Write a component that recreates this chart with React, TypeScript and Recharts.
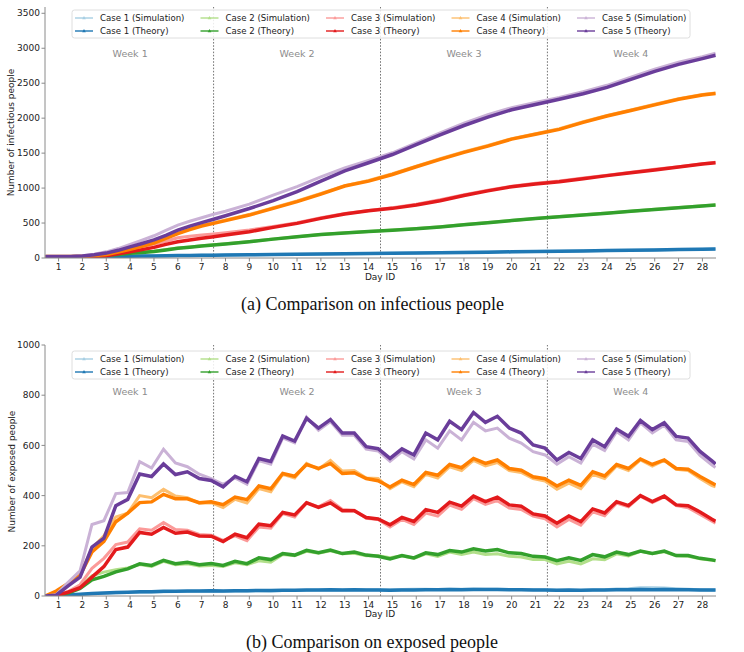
import React from 'react';
import { LineChart, Line, XAxis, YAxis, ReferenceLine, ReferenceDot } from 'recharts';

// ---------- categories / ticks ----------
const dayTicks = [1, 2, 3, 4, 5, 6, 7, 8, 9, 10, 11, 12, 13, 14, 15, 16, 17, 18, 19, 20, 21, 22, 23, 24, 25, 26, 27, 28];
const weekBounds = [7.5, 14.5, 21.5];
const weekLabels = ['Week 1', 'Week 2', 'Week 3', 'Week 4'];
const weekCenters = [4, 11, 18, 25];
const topTicks = [0, 500, 1000, 1500, 2000, 2500, 3000, 3500];
const bottomTicks = [0, 200, 400, 600, 800, 1000];
const caseNames = ['Case 1', 'Case 2', 'Case 3', 'Case 4', 'Case 5'];
const lightColors = ['#a6cee3', '#b2df8a', '#fb9a99', '#fdbf6f', '#cab2d6'];
const darkColors = ['#1f78b4', '#33a02c', '#e31a1c', '#ff7f00', '#6a3d9a'];

// ---------- (a) infectious people ----------
const topDays = [0.45, 1, 1.5, 2, 2.5, 3, 3.5, 4, 4.5, 5,
  5.5, 6, 6.5, 7, 7.5, 8, 9, 10, 11, 12,
  13, 14, 15, 16, 17, 18, 19, 20, 21, 22,
  23, 24, 25, 26, 27, 28, 28.55];

const I1S = [15, 15, 16, 17, 19, 21, 24, 27, 29, 31, 33, 35, 37, 39, 41, 43, 47, 51, 55, 58, 62, 66, 69, 73, 77, 81, 85, 89, 93, 98, 102, 107, 111, 116, 121, 125, 128];
const I1T = [15, 15, 15, 16, 18, 20, 22, 25, 27, 30, 32, 34, 36, 38, 40, 42, 46, 50, 54, 57, 61, 65, 68, 72, 76, 80, 84, 88, 92, 97, 101, 106, 110, 115, 120, 124, 127];
const I2S = [18, 18, 19, 22, 28, 40, 56, 72, 85, 98, 120, 142, 158, 174, 188, 203, 236, 272, 305, 336, 360, 380, 400, 422, 448, 478, 508, 538, 566, 592, 617, 642, 670, 697, 722, 747, 759];
const I2T = [18, 18, 18, 20, 24, 35, 50, 67, 80, 92, 115, 138, 155, 171, 185, 200, 233, 270, 305, 335, 358, 378, 398, 420, 445, 475, 505, 535, 565, 590, 615, 640, 668, 695, 720, 745, 757];
const I3S = [18, 18, 20, 25, 33, 45, 80, 120, 160, 200, 240, 290, 310, 329, 345, 362, 400, 450, 505, 575, 635, 680, 718, 768, 835, 905, 968, 1028, 1068, 1100, 1145, 1185, 1228, 1268, 1305, 1348, 1368];
const I3T = [18, 18, 19, 22, 26, 32, 60, 90, 120, 152, 195, 233, 258, 281, 305, 330, 376, 438, 495, 567, 628, 676, 710, 757, 820, 895, 960, 1020, 1060, 1090, 1135, 1178, 1220, 1260, 1300, 1343, 1362];
const I4S = [20, 20, 23, 28, 40, 60, 100, 145, 190, 235, 300, 368, 420, 470, 505, 545, 622, 718, 815, 922, 1035, 1110, 1205, 1315, 1420, 1520, 1610, 1708, 1778, 1848, 1948, 2038, 2118, 2198, 2278, 2338, 2360];
const I4T = [20, 20, 22, 26, 35, 50, 85, 124, 168, 212, 280, 350, 405, 457, 495, 535, 614, 710, 806, 914, 1029, 1100, 1195, 1305, 1410, 1510, 1600, 1700, 1770, 1840, 1940, 2030, 2110, 2190, 2270, 2330, 2352];
const I5S = [20, 20, 23, 32, 55, 88, 135, 195, 255, 318, 395, 470, 525, 575, 625, 668, 770, 900, 1020, 1160, 1290, 1395, 1505, 1645, 1790, 1930, 2050, 2150, 2225, 2295, 2380, 2470, 2585, 2700, 2800, 2880, 2930];
const I5T = [20, 20, 22, 28, 45, 70, 110, 160, 208, 258, 325, 398, 455, 505, 555, 605, 708, 820, 950, 1100, 1245, 1362, 1480, 1620, 1760, 1895, 2015, 2120, 2195, 2270, 2350, 2440, 2555, 2670, 2770, 2852, 2900];

// ---------- (b) exposed people ----------
const bottomDays = [0.45, 0.9, 1.4, 1.9, 2.4, 2.9, 3.4, 3.9, 4.4, 4.9,
  5.4, 5.9, 6.4, 6.9, 7.4, 7.9, 8.4, 8.9, 9.4, 9.9,
  10.4, 10.9, 11.4, 11.9, 12.4, 12.9, 13.4, 13.9, 14.4, 14.9,
  15.4, 15.9, 16.4, 16.9, 17.4, 17.9, 18.4, 18.9, 19.4, 19.9,
  20.4, 20.9, 21.4, 21.9, 22.4, 22.9, 23.4, 23.9, 24.4, 24.9,
  25.4, 25.9, 26.4, 26.9, 27.4, 27.9, 28.4, 28.55];

const E1S = [0, 1, 3, 6, 9, 11, 13, 14, 15, 16, 17, 18, 18, 19, 20, 19, 20, 20, 21, 20, 22, 22, 23, 24, 25, 24, 25, 25, 25, 24, 26, 27, 27, 26, 27, 27, 28, 27, 27, 26, 26, 25, 25, 23, 23, 22, 24, 25, 28, 29, 33, 33, 32, 29, 27, 25, 24, 24];
const E1T = [0, 1, 4, 7, 10, 12, 14, 15, 17, 17, 19, 19, 20, 20, 21, 20, 21, 21, 22, 22, 23, 23, 24, 24, 25, 24, 25, 24, 24, 23, 24, 24, 25, 25, 26, 25, 26, 26, 26, 25, 25, 24, 24, 23, 24, 23, 24, 24, 25, 25, 26, 25, 26, 25, 25, 24, 24, 24];
const E2S = [0, 2, 14, 40, 80, 95, 105, 112, 125, 118, 138, 125, 128, 120, 122, 118, 132, 125, 140, 135, 165, 160, 178, 170, 180, 168, 170, 160, 160, 152, 160, 150, 168, 158, 175, 165, 175, 165, 168, 158, 155, 145, 145, 128, 138, 128, 148, 145, 168, 160, 178, 168, 176, 160, 158, 148, 142, 140];
const E2T = [0, 2, 12, 30, 64, 78, 96, 108, 128, 122, 142, 129, 134, 125, 129, 122, 138, 129, 152, 145, 169, 163, 182, 172, 183, 169, 175, 163, 158, 148, 161, 152, 172, 165, 181, 175, 188, 179, 185, 172, 169, 158, 155, 141, 152, 142, 165, 156, 175, 165, 179, 169, 179, 161, 161, 150, 144, 141];
const E3S = [0, 2, 18, 45, 110, 150, 205, 215, 268, 262, 293, 265, 262, 245, 242, 222, 240, 220, 275, 270, 328, 315, 372, 355, 380, 345, 342, 310, 305, 275, 305, 285, 330, 318, 362, 345, 388, 365, 380, 350, 345, 318, 308, 275, 305, 282, 335, 320, 370, 355, 398, 372, 395, 360, 352, 325, 298, 290];
const E3T = [0, 2, 15, 33, 75, 117, 185, 195, 253, 246, 273, 250, 255, 239, 238, 217, 246, 232, 286, 280, 333, 323, 371, 353, 371, 340, 340, 313, 307, 284, 313, 297, 344, 333, 374, 358, 398, 376, 394, 363, 358, 327, 319, 290, 319, 296, 347, 331, 376, 360, 400, 376, 398, 363, 360, 335, 306, 298];
const E4S = [0, 15, 45, 85, 190, 240, 315, 330, 400, 392, 425, 398, 392, 370, 372, 352, 385, 370, 428, 415, 485, 470, 528, 505, 540, 498, 500, 470, 468, 428, 455, 435, 485, 470, 515, 500, 540, 518, 532, 500, 492, 468, 458, 425, 450, 428, 485, 468, 518, 500, 542, 518, 540, 505, 500, 468, 440, 435];
const E4T = [0, 20, 50, 82, 175, 218, 296, 330, 372, 375, 405, 387, 387, 372, 375, 364, 394, 384, 438, 427, 488, 477, 524, 508, 528, 488, 491, 468, 459, 434, 461, 444, 492, 481, 524, 511, 548, 528, 542, 508, 501, 475, 467, 438, 461, 441, 495, 478, 524, 508, 546, 524, 542, 508, 505, 476, 450, 442];
const E5S = [0, 5, 55, 100, 285, 300, 408, 412, 535, 510, 585, 530, 515, 485, 468, 445, 470, 445, 540, 525, 630, 610, 712, 660, 695, 640, 640, 585, 578, 537, 575, 546, 622, 589, 658, 622, 692, 658, 669, 629, 609, 575, 562, 525, 555, 530, 605, 580, 655, 622, 690, 650, 680, 622, 615, 560, 522, 512];
const E5T = [0, 3, 40, 75, 195, 230, 360, 385, 486, 476, 526, 484, 495, 468, 460, 435, 477, 455, 548, 536, 637, 617, 708, 669, 703, 649, 649, 595, 587, 548, 586, 562, 649, 622, 696, 663, 731, 692, 716, 669, 649, 602, 589, 542, 572, 548, 622, 595, 665, 636, 699, 663, 690, 636, 629, 576, 538, 526];

const topSim = [I1S, I2S, I3S, I4S, I5S];
const topTheory = [I1T, I2T, I3T, I4T, I5T];
const botSim = [E1S, E2S, E3S, E4S, E5S];
const botTheory = [E1T, E2T, E3T, E4T, E5T];

function buildRows(days: number[], sims: number[][], theories: number[][]) {
  return days.map((d, i) => {
    const row: Record<string, number> = { day: d };
    sims.forEach((s, k) => { row['s' + k] = s[i]; });
    theories.forEach((t, k) => { row['t' + k] = t[i]; });
    return row;
  });
}

const topData = buildRows(topDays, topSim, topTheory);
const bottomData = buildRows(bottomDays, botSim, botTheory);

const FONT = 'DejaVu Sans, sans-serif';
const FRAME = '#8a8a8a';
const tickStyle = { fontSize: 9, fill: '#222', fontFamily: FONT };

function Panel({ data, yMax, yTicks, weekY, height, top }: { data: any[]; yMax: number; yTicks: number[]; weekY: number; height: number; top: number }) {
  const series: React.ReactNode[] = [];
  for (let k = 0; k < 5; k++) {
    series.push(
      <Line key={'s' + k} dataKey={'s' + k} type="linear" stroke={lightColors[k]} strokeWidth={3} dot={false} isAnimationActive={false} />
    );
    series.push(
      <Line key={'t' + k} dataKey={'t' + k} type="linear" stroke={darkColors[k]} strokeWidth={3.5} dot={false} isAnimationActive={false} />
    );
  }
  return (
    <div style={{ position: 'absolute', left: 0, top }}>
      <LineChart width={744} height={height} data={data} margin={{ top: height - 30 - 251 - 0, right: 28, bottom: 0, left: 0 }}>
        <XAxis
          dataKey="day"
          type="number"
          domain={[0.43, 28.57]}
          ticks={dayTicks}
          interval={0}
          allowDataOverflow
          height={30}
          tickSize={3.5}
          tickMargin={2}
          stroke={FRAME}
          tick={tickStyle}
        />
        <XAxis xAxisId="top" orientation="top" dataKey="day" type="number" domain={[0.43, 28.57]} height={0} tick={false} tickLine={false} stroke={FRAME} allowDataOverflow />
        <YAxis
          type="number"
          domain={[0, yMax]}
          ticks={yTicks}
          interval={0}
          allowDataOverflow
          width={45}
          tickSize={3.5}
          tickMargin={1.5}
          stroke={FRAME}
          tick={tickStyle}
        />
        <YAxis yAxisId="right" orientation="right" type="number" domain={[0, yMax]} width={0} tick={false} tickLine={false} stroke={FRAME} />
        {weekBounds.map((b) => (
          <ReferenceLine key={b} x={b} stroke="#666" strokeWidth={0.9} strokeDasharray="1.6 1.6" />
        ))}
        {weekLabels.map((w, i) => (
          <ReferenceDot
            key={w}
            x={weekCenters[i]}
            y={weekY}
            r={1}
            fill="none"
            stroke="none"
            label={{ value: w, position: 'center', fill: '#8c8c8c', fontSize: 9.5, fontFamily: FONT }}
          />
        ))}
        {series}
      </LineChart>
    </div>
  );
}

function LegendBox({ y0 }: { y0: number }) {
  const cols: React.ReactNode[] = [];
  for (let k = 0; k < 5; k++) {
    const x = 72 + k * 125.5;
    const rows = [
      { label: caseNames[k] + ' (Simulation)', color: lightColors[k], yy: y0 + 8 },
      { label: caseNames[k] + ' (Theory)', color: darkColors[k], yy: y0 + 21 },
    ];
    rows.forEach((r, j) => {
      cols.push(
        <g key={k + '-' + j}>
          <line x1={x + 3} x2={x + 21} y1={r.yy} y2={r.yy} stroke={r.color} strokeWidth={1.4} />
          <path d={`M ${x + 12} ${r.yy - 2} L ${x + 13.8} ${r.yy + 1.3} L ${x + 10.2} ${r.yy + 1.3} Z`} fill={r.color} />
          <text x={x + 28} y={r.yy} dominantBaseline="central" fontSize={8.6} fontFamily={FONT} fill="#222">
            {r.label}
          </text>
        </g>
      );
    });
  }
  return (
    <g>
      <rect x={72} y={y0} width={618} height={28} rx={2.5} fill="#fff" fillOpacity={0.85} stroke="#d5d5d5" strokeWidth={0.8} />
      {cols}
    </g>
  );
}

export default function App() {
  return (
    <div style={{ position: 'absolute', left: 0, top: 0, width: 744, height: 652, background: '#fff', overflow: 'hidden' }}>
      <Panel data={topData} yMax={3590} yTicks={topTicks} weekY={2930} height={288} top={0} />
      <Panel data={bottomData} yMax={1000} yTicks={bottomTicks} weekY={815} height={306} top={320} />
      <svg width={744} height={652} style={{ position: 'absolute', left: 0, top: 0, pointerEvents: 'none' }}>
        <LegendBox y0={10} />
        <LegendBox y0={351} />
        <text transform="translate(11,132.5) rotate(-90)" textAnchor="middle" dominantBaseline="central" fontSize={9} fontFamily={FONT} fill="#222">
          Number of infectious people
        </text>
        <text transform="translate(11.5,471.5) rotate(-90)" textAnchor="middle" dominantBaseline="central" fontSize={9} fontFamily={FONT} fill="#222">
          Number of exposed people
        </text>
        <text x={380} y={277} textAnchor="middle" dominantBaseline="central" fontSize={9} fontFamily={FONT} fill="#222">Day ID</text>
        <text x={380} y={614} textAnchor="middle" dominantBaseline="central" fontSize={9} fontFamily={FONT} fill="#222">Day ID</text>
        <text x={372.5} y={310} textAnchor="middle" fontSize={18} fontFamily="Liberation Serif, serif" fill="#111">
          (a) Comparison on infectious people
        </text>
        <text x={372} y={648} textAnchor="middle" fontSize={18} fontFamily="Liberation Serif, serif" fill="#111">
          (b) Comparison on exposed people
        </text>
      </svg>
    </div>
  );
}
